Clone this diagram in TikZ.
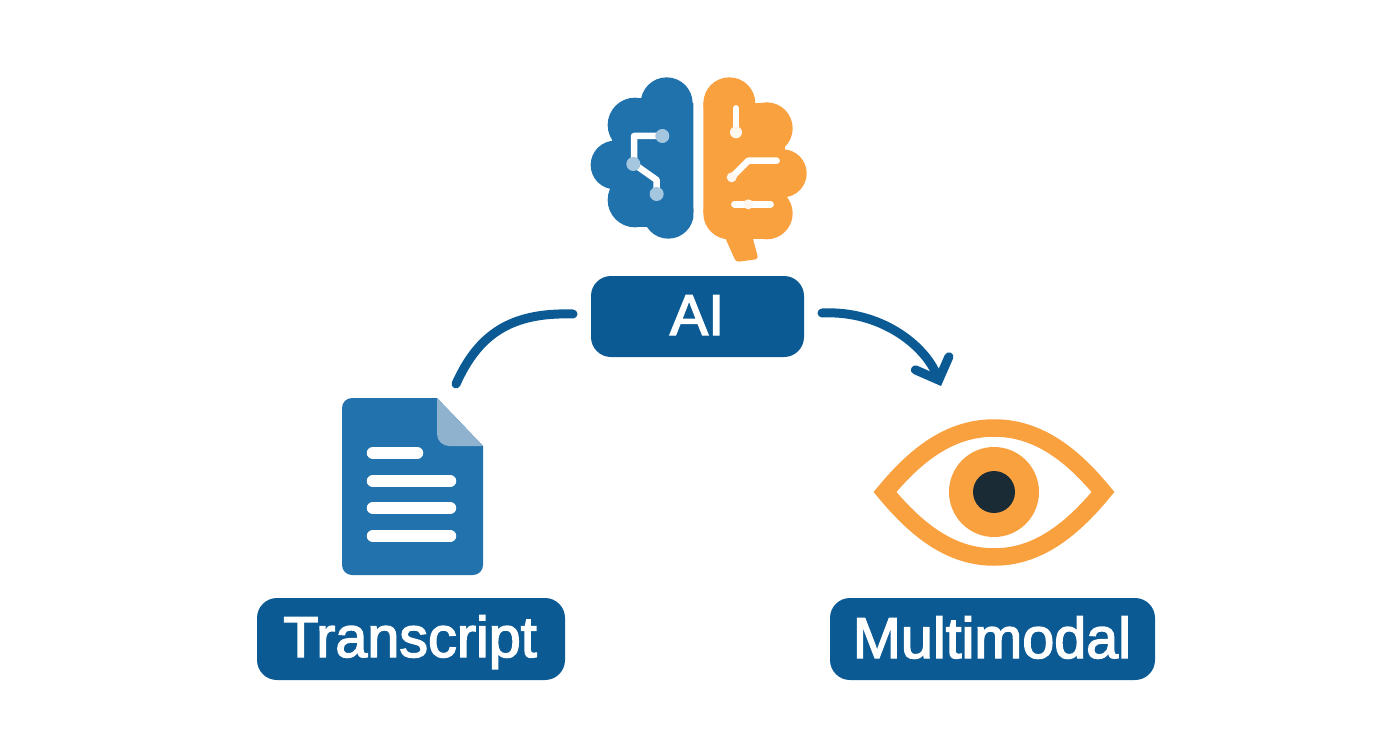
\documentclass[tikz,border=0pt]{standalone}
\usepackage{fontspec}
\newfontfamily\labfont[RawFeature={embolden=2.5}]{Liberation Sans}
\usetikzlibrary{arrows.meta}
\definecolor{navy}{HTML}{0B5A94}
\definecolor{docblue}{HTML}{2172AD}
\definecolor{brainblue}{HTML}{2072AC}
\definecolor{amber}{HTML}{F9A03F}
\definecolor{folded}{HTML}{8FB2CE}
\definecolor{dotblue}{HTML}{A4C6DF}
\definecolor{pupil}{HTML}{1B2B36}
\tikzset{
  pill/.style={fill=navy,rounded corners=20pt},
  lab/.style={text=white,inner sep=0pt,anchor=base,font=\labfont\fontsize{57.5}{60}\selectfont},
  link/.style={draw=navy,line width=9pt,line cap=round},
  wire/.style={draw=white,line width=6.5pt,line join=round},
  docline/.style={draw=white,line width=12.5pt,line cap=round}
}
\begin{document}
\begin{tikzpicture}[x=1pt,y=-1pt]
\useasboundingbox[fill=white] (0,0) rectangle (1392,752);
% brain
\begin{scope}[shift={(570,60)},scale=1/3]
  \begin{scope}
    \clip (0,0) rectangle (370,600);
    \fill[brainblue] (290,130) circle[radius=78];
    \fill[brainblue] (195,195) circle[radius=82];
    \fill[brainblue] (135,315) circle[radius=73];
    \fill[brainblue] (195,420) circle[radius=82];
    \fill[brainblue] (295,460) circle[radius=76];
    \fill[brainblue] (290,130) rectangle (372,460);
    \fill[brainblue] (125,195) rectangle (290,420);
    \fill[brainblue] (195,113) rectangle (290,200);
    \fill[brainblue] (195,420) rectangle (295,500);
  \end{scope}
  \begin{scope}
    \clip (400,0) rectangle (800,640);
    \fill[amber] (478,130) circle[radius=78];
    \fill[amber] (590,205) circle[radius=78];
    \fill[amber] (638,340) circle[radius=72];
    \fill[amber] (590,460) circle[radius=78];
    \fill[amber] (478,460) circle[radius=78];
    \fill[amber] (398,130) rectangle (590,460);
    \fill[amber] (590,205) rectangle (645,460);
    \fill[amber] (478,460) rectangle (590,538);
  \end{scope}
  \fill[amber,rounded corners=3pt] (462,525) -- (498,606) -- (565,597) -- (546,525) -- cycle;
  \draw[wire] (277,228) -- (192,228) -- (192,312) -- (260,360) -- (260,402);
  \fill[dotblue] (277,228) circle[radius=21];
  \fill[dotblue] (190,312) circle[radius=21];
  \fill[dotblue] (260,402) circle[radius=21];
  \draw[wire,line cap=round] (498,145) -- (498,217);
  \fill[white!92!amber] (498,217) circle[radius=18];
  \draw[wire,line cap=round] (485,352) -- (535,302) -- (620,302);
  \fill[white!92!amber] (485,352) circle[radius=15];
  \draw[wire,line cap=round] (493,433) -- (602,433);
  \fill[white!92!amber] (535,433) circle[radius=15];
\end{scope}
% document
\fill[docblue] (352,398) -- (437,398) -- (483,446) -- (483,565)
  arc[start angle=0,end angle=90,radius=10] -- (352,575)
  arc[start angle=90,end angle=180,radius=10] -- (342,408)
  arc[start angle=180,end angle=270,radius=10] -- cycle;
\fill[folded] (437,398) -- (483,446) -- (449,446) arc[start angle=90,end angle=180,radius=12] -- cycle;
\draw[docline] (373,453) -- (417,453);
\draw[docline] (373,481) -- (450,481);
\draw[docline] (373,508) -- (450,508);
\draw[docline] (373,536) -- (450,536);
% eye
\draw[amber,line width=17.5pt,miter limit=10,line join=miter]
  (885,492) .. controls (918,452) and (952,428) .. (994,428)
  .. controls (1036,428) and (1070,452) .. (1103,492)
  .. controls (1070,532) and (1036,557) .. (994,557)
  .. controls (952,557) and (918,532) .. (885,492) -- cycle;
\fill[amber] (994,492) circle[radius=45];
\fill[pupil] (994,492) circle[radius=21];
% labels
\path[pill] (591,276) rectangle (804,357);
\path[pill] (257,598) rectangle (565,680);
\path[pill] (830,598) rectangle (1155,680);
\node[lab] (ai) at (697,335) {AI};
\node[lab] (transcript) at (410,657) {Transcript};
\node[lab] (multimodal) at (992,658) {Multimodal};
% connectors
\coordinate (ls) at (573,314);
\coordinate (le) at (456,384);
\coordinate (rs) at (822,313);
\coordinate (re) at (941,386);
\draw[link] (ls) .. controls (510,312) and (478,335) .. (le);
\draw[link,-{Straight Barb[length=18pt,width=36pt,line width=9pt,line cap=round,line join=miter]}] (rs) .. controls (880,310) and (925,345) .. (re);
\end{tikzpicture}
\end{document}
